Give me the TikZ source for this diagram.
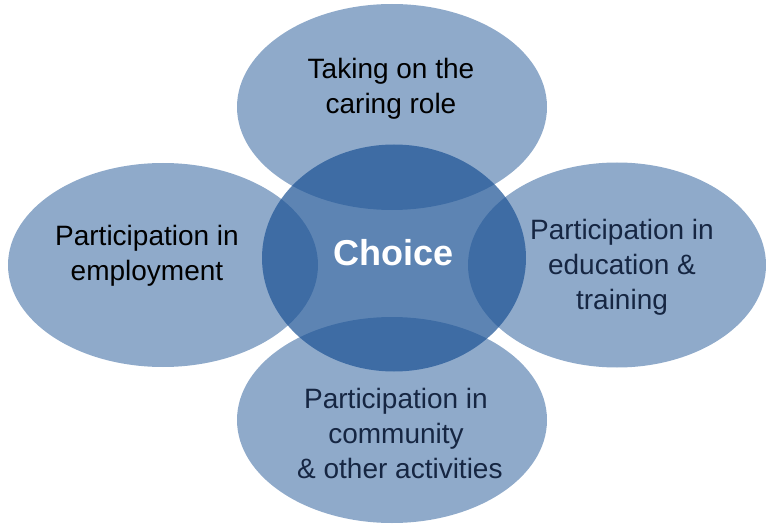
\documentclass[tikz,border=0pt]{standalone}
\usepackage{fontspec}
\setmainfont{Liberation Sans}
\usetikzlibrary{shapes.geometric}
\definecolor{petalblue}{RGB}{31,85,150}
\definecolor{navytext}{RGB}{22,38,66}

\begin{document}
\begin{tikzpicture}[x=1pt,y=-1pt,
  petal/.style={ellipse,fill=petalblue,fill opacity=0.5,inner sep=0pt},
  hub/.style={ellipse,fill=petalblue,fill opacity=0.72,inner sep=0pt},
  petaltext/.style={align=center,font=\fontsize{28}{35}\selectfont}]
  \useasboundingbox (0,0) rectangle (766,524);
  % central choice circle
  \node[hub,minimum width=264pt,minimum height=227pt] (choice) at (394,258) {};
  % four petals round it
  \node[petal,minimum width=310pt,minimum height=206pt] (caring) at (392,107) {};
  \node[petal,minimum width=310pt,minimum height=204pt] (employ) at (163,265) {};
  \node[petal,minimum width=298pt,minimum height=205pt] (educ) at (617,265) {};
  \node[petal,minimum width=310pt,minimum height=206pt] (commun) at (392,420) {};
  % labels
  \node[font=\fontsize{36}{40}\selectfont\bfseries,text=white] (choicetext) at (394,253) {Choice};
  \node[petaltext,text=black] (caringtext) at (391,89) {Taking on the\\caring role};
  \node[petaltext,text=black] (employtext) at (147,256) {Participation in\\employment};
  \node[petaltext,text=navytext] (eductext) at (622,267) {Participation in\\education \&\\training};
  \node[petaltext,text=navytext] (communtext) at (396,433) {Participation in\\community\\\ \& other activities};
\end{tikzpicture}
\end{document}
